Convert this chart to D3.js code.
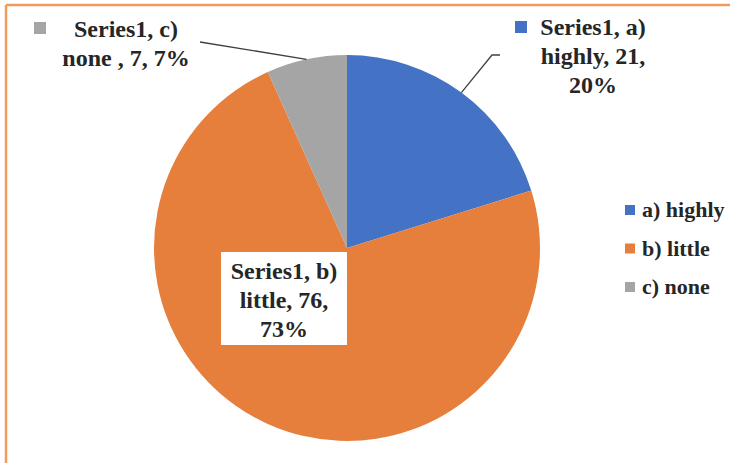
<!DOCTYPE html>
<html>
<head>
<meta charset="utf-8">
<script src="https://cdn.jsdelivr.net/npm/d3@7"></script>
<style>
  html, body { margin: 0; padding: 0; background: #fff; }
  svg { display: block; }
</style>
</head>
<body>
<svg id="chart" width="730" height="463"></svg>
<script>
// ---- data ----
const seriesName = "Series1";
const categories = ["a) highly", "b) little", "c) none"];
const values = [21, 76, 7];
const percents = ["20%", "73%", "7%"];
const colors = ["#4472C4", "#E67E3C", "#A5A5A5"];
// data label texts (as shown in the picture)
const labelLines = [
  [seriesName + ", a)", "highly, " + values[0] + ",", percents[0]],
  [seriesName + ", b)", "little, " + values[1] + ",", percents[1]],
  [seriesName + ", c)", "none , " + values[2] + ", " + percents[2]]
];

// ---- layout ----
const FONT = "'Liberation Serif'";
const W = 730, H = 463;
const cx = 347, cy = 248, R = 193;
const svg = d3.select("#chart");

// frame (orange border, top and left visible)
svg.append("line").attr("x1", 6).attr("y1", 5).attr("x2", W).attr("y2", 5)
  .attr("stroke", "#F29A5C").attr("stroke-width", 2.5);
svg.append("line").attr("x1", 6).attr("y1", 5).attr("x2", 6).attr("y2", H)
  .attr("stroke", "#F29A5C").attr("stroke-width", 2.5);

const pie = d3.pie().sort(null).value(d => d)(values);
const arc = d3.arc().innerRadius(0).outerRadius(R);
const edge = d3.arc().innerRadius(R).outerRadius(R);

const g = svg.append("g").attr("transform", `translate(${cx},${cy})`);
g.selectAll("path.slice").data(pie).enter().append("path")
  .attr("class", "slice")
  .attr("d", arc)
  .attr("fill", (d, i) => colors[i]);

// leader lines
const ea = edge.centroid(pie[0]);
svg.append("path")
  .attr("d", d3.line()([[cx + ea[0], cy + ea[1]], [492, 55], [500, 55]]))
  .attr("fill", "none").attr("stroke", "#404040").attr("stroke-width", 1.3);
const ec = edge.centroid(pie[2]);
svg.append("path")
  .attr("d", d3.line()([[cx + ec[0], cy + ec[1]], [200, 42]]))
  .attr("fill", "none").attr("stroke", "#404040").attr("stroke-width", 1.3);

// data labels
const labelFont = 24, lineH = 29;
const labelPos = [
  { x: 593, y: 35, key: { x: 515, y: 21 } },
  { x: 284, y: 279, box: { x: 221, y: 252, w: 126, h: 93 } },
  { x: 126, y: 37, key: { x: 34, y: 22 } }
];
labelPos.forEach((p, i) => {
  if (p.box) {
    svg.append("rect").attr("x", p.box.x).attr("y", p.box.y)
      .attr("width", p.box.w).attr("height", p.box.h).attr("fill", "#fff");
  }
  if (p.key) {
    svg.append("rect").attr("x", p.key.x).attr("y", p.key.y)
      .attr("width", 12).attr("height", 12).attr("fill", colors[i]);
  }
  const t = svg.append("text").attr("text-anchor", "middle")
    .style("font-family", FONT).style("font-weight", "bold").attr("fill", "#262626")
    .attr("font-size", labelFont);
  labelLines[i].forEach((ln, j) => {
    t.append("tspan").attr("x", p.x).attr("y", p.y + j * lineH).text(ln);
  });
});

// legend
const legY = d3.scalePoint().domain(categories).range([210, 287]);
const leg = svg.append("g");
categories.forEach((c, i) => {
  leg.append("rect").attr("x", 625).attr("y", legY(c) - 5)
    .attr("width", 10).attr("height", 10).attr("fill", colors[i]);
  leg.append("text").attr("x", 642).attr("y", legY(c) + 7)
    .style("font-family", FONT).style("font-weight", "bold").attr("fill", "#262626")
    .attr("font-size", 22).text(c);
});
</script>
</body>
</html>
